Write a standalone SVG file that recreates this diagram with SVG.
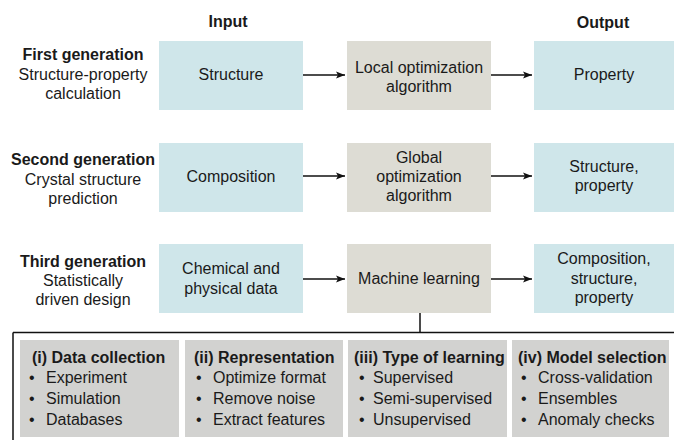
<svg xmlns="http://www.w3.org/2000/svg" width="674" height="440" viewBox="0 0 674 440">
<defs>
<marker id="ah" markerWidth="10" markerHeight="8" refX="9" refY="4" orient="auto" markerUnits="userSpaceOnUse">
<path d="M0,0.5 L9,4 L0,7.5 L2,4 Z" fill="#111"/>
</marker>
<style>
text{font-family:"Liberation Sans",Arial,Helvetica,sans-serif;font-size:16px;fill:#1a1a1a}
.b{font-weight:bold}
.m{text-anchor:middle}
.blue{fill:#cfe6ea}
.grey{fill:#dddcd4}
.pan{fill:#d2d2d0}
.ln{stroke:#111;stroke-width:1.5;fill:none}
</style>
</defs>
<rect width="674" height="440" fill="#fff"/>

<g id="headers">
<text class="b m" x="228" y="27">Input</text>
<text class="b m" x="603" y="28">Output</text>
</g>

<g id="label-first">
<text class="b m" x="83" y="60">First generation</text>
<text class="m" x="83" y="80">Structure-property</text>
<text class="m" x="83" y="99">calculation</text>
</g>
<g id="label-second">
<text class="b m" x="83" y="165">Second generation</text>
<text class="m" x="83" y="184.5">Crystal structure</text>
<text class="m" x="83" y="204">prediction</text>
</g>
<g id="label-third">
<text class="b m" x="83" y="267">Third generation</text>
<text class="m" x="83" y="286">Statistically</text>
<text class="m" x="83" y="305">driven design</text>
</g>

<g id="n-structure"><rect class="blue" x="159" y="41" width="144" height="69"/><text class="m" x="231" y="80">Structure</text></g>
<g id="n-local"><rect class="grey" x="347" y="41" width="144" height="69"/><text class="m" x="419" y="73">Local optimization</text><text class="m" x="419" y="92">algorithm</text></g>
<g id="n-property"><rect class="blue" x="534" y="41" width="140" height="69"/><text class="m" x="604" y="80">Property</text></g>

<g id="n-composition"><rect class="blue" x="159" y="143" width="144" height="69"/><text class="m" x="231" y="181.5">Composition</text></g>
<g id="n-global"><rect class="grey" x="347" y="143" width="144" height="69"/><text class="m" x="419" y="163">Global</text><text class="m" x="419" y="182">optimization</text><text class="m" x="419" y="201">algorithm</text></g>
<g id="n-structprop"><rect class="blue" x="534" y="143" width="140" height="69"/><text class="m" x="604" y="172">Structure,</text><text class="m" x="604" y="191">property</text></g>

<g id="n-chemdata"><rect class="blue" x="159" y="244" width="144" height="69"/><text class="m" x="231" y="274">Chemical and</text><text class="m" x="231" y="293.5">physical data</text></g>
<g id="n-ml"><rect class="grey" x="347" y="244" width="144" height="69"/><text class="m" x="419" y="284">Machine learning</text></g>
<g id="n-compstructprop"><rect class="blue" x="534" y="244" width="140" height="69"/><text class="m" x="604" y="264">Composition,</text><text class="m" x="604" y="283.5">structure,</text><text class="m" x="604" y="302.5">property</text></g>

<g id="connectors">
<line class="ln" x1="303" y1="75" x2="345" y2="75" marker-end="url(#ah)"/>
<line class="ln" x1="491" y1="75" x2="532" y2="75" marker-end="url(#ah)"/>
<line class="ln" x1="303" y1="176" x2="345" y2="176" marker-end="url(#ah)"/>
<line class="ln" x1="491" y1="176" x2="532" y2="176" marker-end="url(#ah)"/>
<line class="ln" x1="303" y1="279" x2="345" y2="279" marker-end="url(#ah)"/>
<line class="ln" x1="491" y1="279" x2="532" y2="279" marker-end="url(#ah)"/>
<path class="ln" d="M420,313 V332.5 M13,332.5 H674 M13,332.5 V440"/>
</g>

<g id="p-data">
<rect class="pan" x="20" y="340" width="159" height="97"/>
<text class="b" x="32" y="363">(i) Data collection</text>
<text x="29" y="383">•</text><text x="46" y="383">Experiment</text>
<text x="29" y="404">•</text><text x="46" y="404">Simulation</text>
<text x="29" y="425">•</text><text x="46" y="425">Databases</text>
</g>
<g id="p-repr">
<rect class="pan" x="185" y="340" width="158" height="97"/>
<text class="b" x="194" y="363">(ii) Representation</text>
<text x="196" y="383">•</text><text x="213" y="383">Optimize format</text>
<text x="196" y="404">•</text><text x="213" y="404">Remove noise</text>
<text x="196" y="425">•</text><text x="213" y="425">Extract features</text>
</g>
<g id="p-learning">
<rect class="pan" x="348" y="340" width="159" height="97"/>
<text class="b" x="354" y="363">(iii) Type of learning</text>
<text x="359" y="383">•</text><text x="373" y="383">Supervised</text>
<text x="359" y="404">•</text><text x="373" y="404">Semi-supervised</text>
<text x="359" y="425">•</text><text x="373" y="425">Unsupervised</text>
</g>
<g id="p-model">
<rect class="pan" x="512" y="340" width="157" height="97"/>
<text class="b" x="518" y="363">(iv) Model selection</text>
<text x="521" y="383">•</text><text x="538" y="383">Cross-validation</text>
<text x="521" y="404">•</text><text x="538" y="404">Ensembles</text>
<text x="521" y="425">•</text><text x="538" y="425">Anomaly checks</text>
</g>
</svg>
